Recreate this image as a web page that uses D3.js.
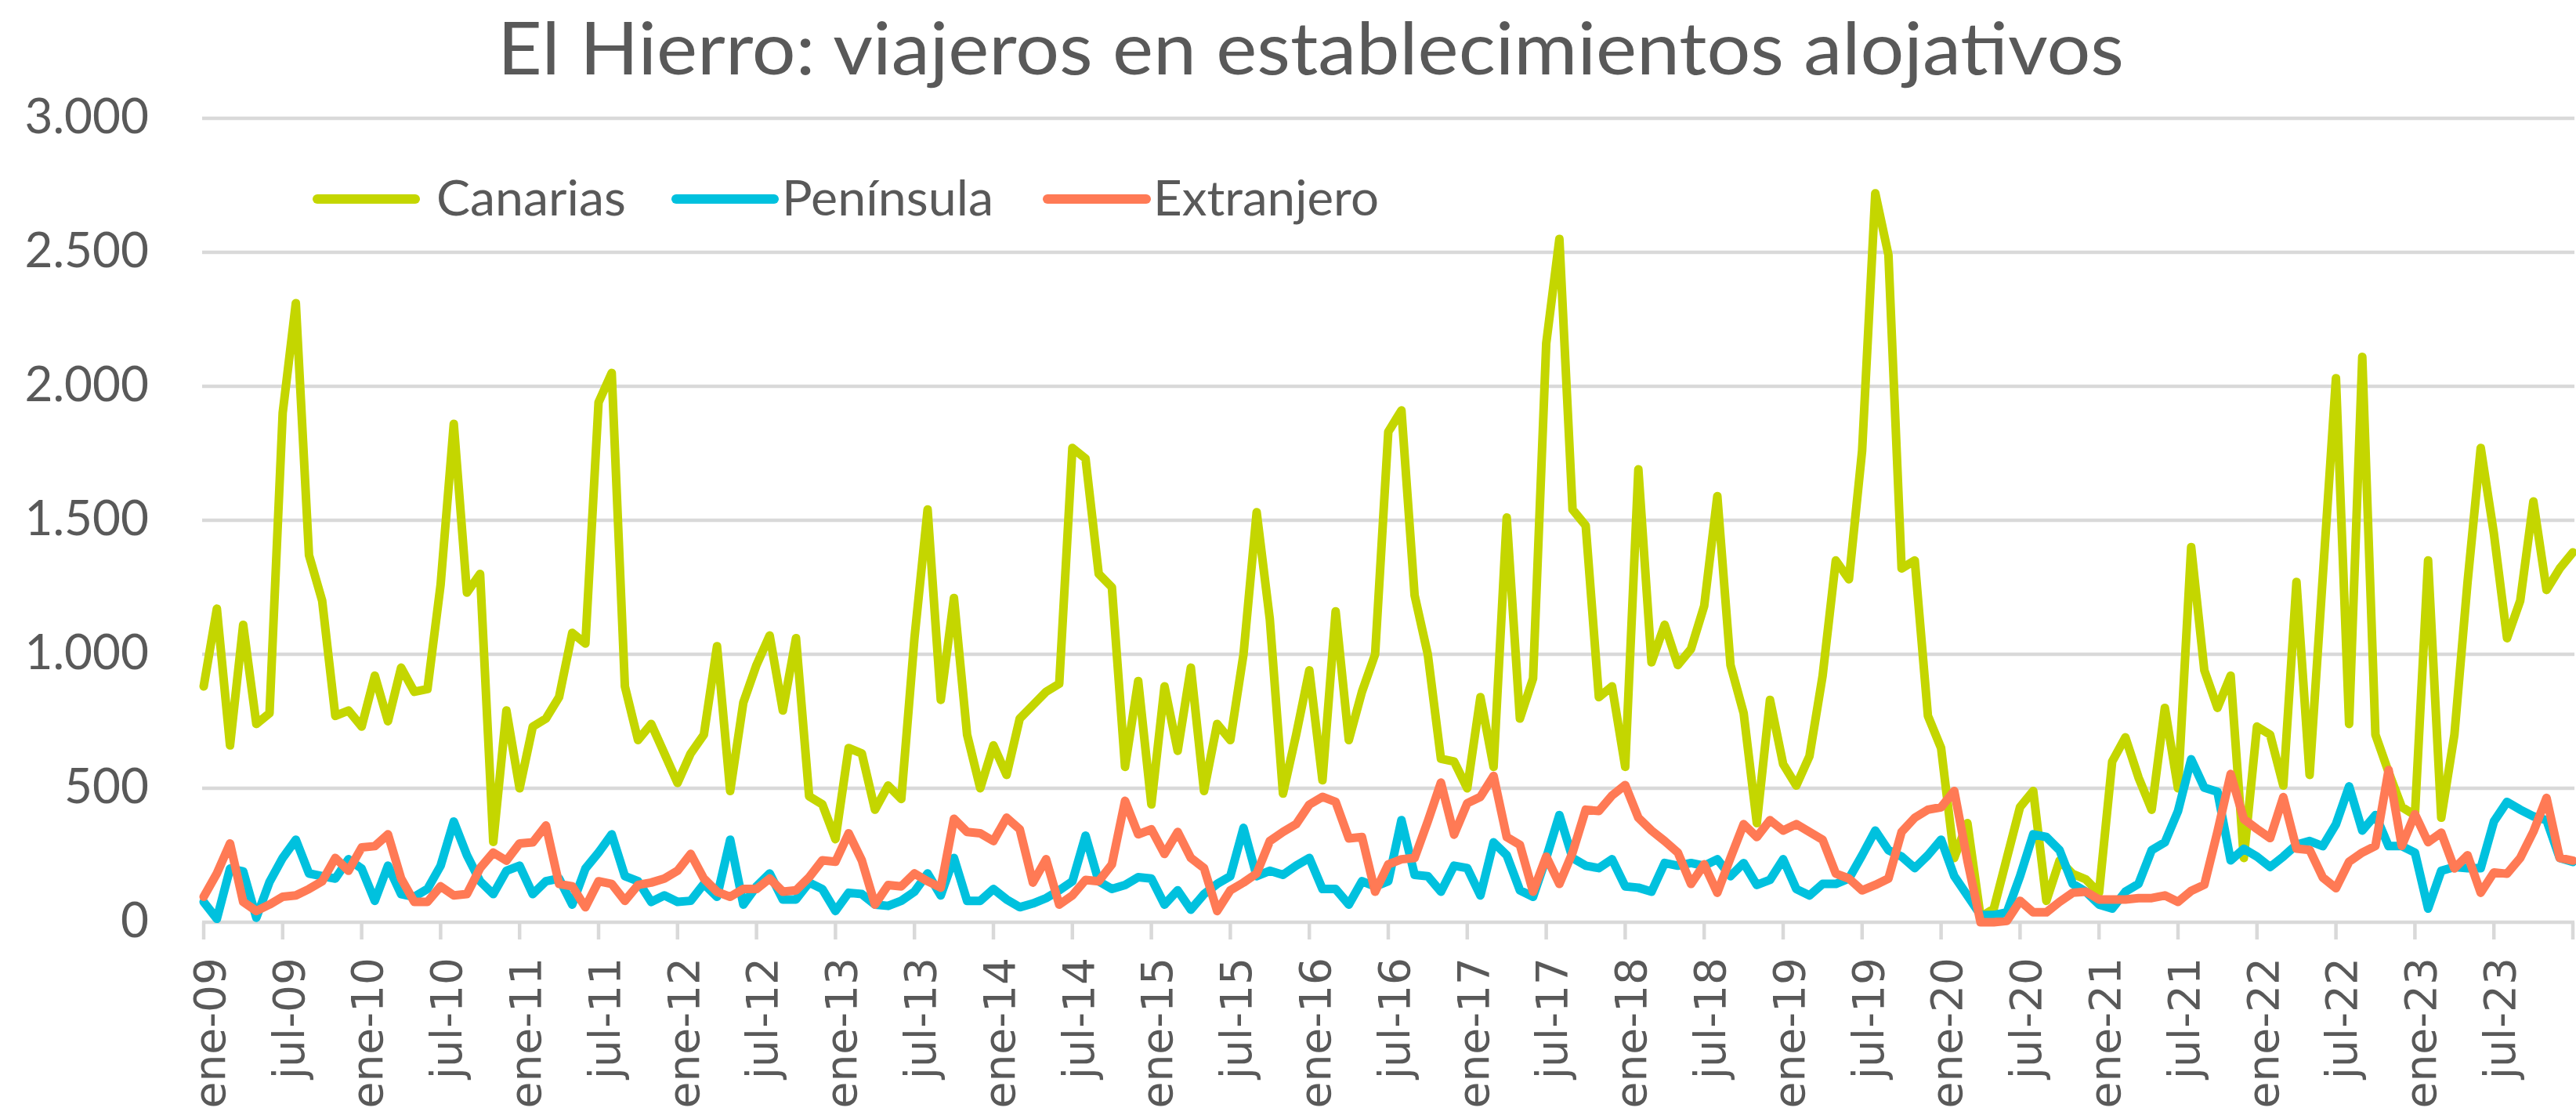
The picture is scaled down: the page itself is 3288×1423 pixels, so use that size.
<!DOCTYPE html>
<head>
  <meta charset="utf-8">
  <script src="https://d3js.org/d3.v7.min.js"></script>
  <style>
    body {
      margin: 0;
      background: #fff;
    }
    #chart text {
      fill: #595959;
    }
  </style>
</head>

<body>
  <svg id="chart" width="3288" height="1423"></svg>

  <script>

    // viajeros alojados en El Hierro, mensual ene-09 .. ene-24
    const meses = ["ene", "feb", "mar", "abr", "may", "jun", "jul", "ago", "sep", "oct", "nov", "dic"];

    const etiquetasX = ["ene-09", "jul-09", "ene-10", "jul-10", "ene-11", "jul-11", "ene-12", "jul-12",
      "ene-13", "jul-13", "ene-14", "jul-14", "ene-15", "jul-15", "ene-16", "jul-16", "ene-17", "jul-17",
      "ene-18", "jul-18", "ene-19", "jul-19", "ene-20", "jul-20", "ene-21", "jul-21", "ene-22", "jul-22",
      "ene-23", "jul-23"];

    const ticksY = [0, 500, 1000, 1500, 2000, 2500, 3000];

    const canarias = [
      880, 1170, 660, 1110, 740, 780, 1900, 2310, 1370, 1200, 770, 790,
      730, 920, 750, 950, 860, 870, 1260, 1860, 1230, 1300, 300, 790,
      500, 730, 760, 840, 1080, 1040, 1940, 2050, 880, 680, 740, 630,
      520, 630, 700, 1030, 490, 820, 960, 1070, 790, 1060, 470, 440,
      310, 650, 630, 420, 510, 460, 1060, 1540, 830, 1210, 700, 500,
      660, 550, 760, 810, 860, 890, 1770, 1730, 1300, 1250, 580, 900,
      440, 880, 640, 950, 490, 740, 680, 1000, 1530, 1130, 480, 700,
      940, 530, 1160, 680, 860, 1000, 1830, 1910, 1220, 1000, 610, 600,
      500, 840, 580, 1510, 760, 910, 2160, 2550, 1540, 1480, 840, 880,
      580, 1690, 970, 1110, 960, 1020, 1180, 1590, 960, 780, 370, 830,
      590, 510, 620, 920, 1350, 1280, 1760, 2720, 2490, 1320, 1350, 770,
      650, 240, 370, 20, 50, 240, 430, 490, 80, 230, 180, 160,
      110, 600, 690, 540, 420, 800, 500, 1400, 940, 800, 920, 240,
      730, 700, 510, 1270, 550, 1290, 2030, 740, 2110, 700, 560, 430,
      400, 1350, 390, 700, 1270, 1770, 1450, 1060, 1200, 1570, 1240, 1320,
      1380];

    const peninsula = [
      76, 13, 200, 190, 17, 150, 240, 308, 182, 172, 163, 235,
      200, 80, 211, 105, 95, 124, 211, 376, 250, 153, 105, 192,
      211, 105, 153, 163, 66, 200, 260, 328, 172, 153, 76, 100,
      76, 80, 143, 95, 308, 66, 134, 182, 85, 85, 148, 124,
      42, 110, 105, 66, 61, 80, 114, 182, 100, 240, 80, 80,
      124, 85, 56, 70, 90, 119, 153, 323, 153, 124, 139, 168,
      163, 66, 119, 47, 105, 143, 172, 352, 172, 192, 177, 211,
      240, 124, 124, 66, 153, 133, 153, 381, 177, 172, 114, 211,
      202, 100, 298, 250, 119, 95, 240, 400, 240, 211, 202, 235,
      134, 129, 114, 221, 211, 221, 211, 235, 172, 221, 139, 158,
      235, 124, 100, 143, 143, 163, 250, 342, 269, 245, 202, 250,
      308, 172, 100, 27, 27, 37, 172, 328, 318, 269, 143, 114,
      66, 51, 114, 143, 269, 298, 415, 608, 502, 487, 231, 274,
      245, 206, 245, 289, 303, 284, 366, 507, 342, 400, 284, 284,
      260, 51, 192, 206, 202, 202, 376, 449, 420, 395, 381, 240,
      225];

    const extranjero = [
      95, 182, 294, 76, 42, 66, 95, 100, 124, 153, 240, 192,
      279, 284, 328, 163, 76, 76, 134, 100, 105, 202, 260, 230,
      294, 298, 361, 143, 134, 56, 153, 143, 80, 139, 148, 163,
      192, 255, 163, 114, 95, 124, 124, 163, 114, 119, 168, 231,
      226, 332, 231, 66, 139, 134, 182, 153, 129, 386, 337, 332,
      303, 390, 347, 148, 235, 66, 100, 158, 153, 216, 453, 328,
      347, 255, 337, 240, 202, 42, 119, 148, 182, 303, 337, 366,
      439, 468, 449, 313, 318, 114, 216, 235, 240, 376, 521, 327,
      444, 468, 546, 318, 289, 114, 245, 143, 260, 420, 415, 473,
      512, 390, 342, 303, 260, 143, 216, 110, 240, 366, 318, 381,
      342, 366, 337, 308, 182, 163, 119, 139, 163, 337, 390, 420,
      429, 490, 230, 0, 0, 5, 80, 37, 37, 76, 110, 114,
      85, 85, 85, 90, 90, 100, 76, 117, 140, 338, 553, 385,
      348, 314, 467, 275, 270, 167, 127, 226, 260, 285, 568, 285,
      403, 299, 334, 201, 250, 110, 186, 181, 240, 338, 464, 240,
      230];

    // una categoria por mes
    const categorias = canarias.map((d, i) => meses[i % 12] + "-" + String(9 + Math.floor(i / 12)).padStart(2, "0"));

    const series = [
      { nombre: "Canarias", valores: canarias, color: "#c4d600", leyenda: [405, 530, 557, 242] },
      { nombre: "Península", valores: peninsula, color: "#00c1de", leyenda: [863, 988, 998, 270] },
      { nombre: "Extranjero", valores: extranjero, color: "#ff7a55", leyenda: [1337, 1463, 1472, 288] }
    ];

    const gris = "#d9d9d9";
    const svg = d3.select("#chart");

    const x = d3.scalePoint()
      .domain(categorias)
      .range([260, 3284]);

    const y = d3.scaleLinear()
      .domain([0, 3000])
      .range([1177, 151]);

    const fmt = d3.formatLocale({ decimal: ",", thousands: ".", grouping: [3], currency: ["", "€"] }).format(",");

    // titulo
    svg.append("text")
      .attr("x", 635)
      .attr("y", 95)
      .attr("textLength", 2076)
      .attr("lengthAdjust", "spacingAndGlyphs")
      .style("font-family", "Lato, 'Open Sans', sans-serif")
      .style("font-size", "93px")
      .text("El Hierro: viajeros en establecimientos alojativos");

    // rejilla horizontal
    svg.append("g")
      .selectAll("line")
      .data(ticksY)
      .enter().append("line")
      .attr("x1", 258)
      .attr("x2", 3286)
      .attr("y1", d => y(d))
      .attr("y2", d => y(d))
      .style("stroke", gris)
      .style("stroke-width", 4.5);

    // etiquetas eje y
    svg.append("g")
      .selectAll("text")
      .data(ticksY)
      .enter().append("text")
      .attr("x", 190)
      .attr("y", d => y(d) + 19)
      .attr("text-anchor", "end")
      .style("font-family", "Lato, 'Open Sans', sans-serif")
      .style("font-size", "62px")
      .text(d => fmt(d));

    // marcas del eje x cada 6 meses
    const marcas = categorias.filter((d, i) => i % 6 === 0);
    svg.append("g")
      .selectAll("line")
      .data(marcas)
      .enter().append("line")
      .attr("x1", d => x(d))
      .attr("x2", d => x(d))
      .attr("y1", 1177)
      .attr("y2", 1199)
      .style("stroke", gris)
      .style("stroke-width", 4.5);

    svg.append("g")
      .selectAll("text")
      .data(etiquetasX)
      .enter().append("text")
      .attr("transform", d => `translate(${x(d) + 7},1222) rotate(-90)`)
      .attr("dy", "0.36em")
      .attr("text-anchor", "end")
      .style("font-family", "'DejaVu Sans', sans-serif")
      .style("font-size", "55px")
      .text(d => d);

    // lineas
    const linea = d3.line()
      .x((d, i) => x(categorias[i]))
      .y(d => y(d));

    svg.append("g")
      .selectAll("path")
      .data(series)
      .enter().append("path")
      .attr("d", d => linea(d.valores))
      .style("fill", "none")
      .style("stroke", d => d.color)
      .style("stroke-width", 11)
      .style("stroke-linejoin", "round")
      .style("stroke-linecap", "round");

    // leyenda
    const ley = svg.append("g");
    ley.selectAll("line")
      .data(series)
      .enter().append("line")
      .attr("x1", d => d.leyenda[0])
      .attr("x2", d => d.leyenda[1])
      .attr("y1", 254)
      .attr("y2", 254)
      .style("stroke", d => d.color)
      .style("stroke-width", 12)
      .style("stroke-linecap", "round");

    ley.selectAll("text")
      .data(series)
      .enter().append("text")
      .attr("x", d => d.leyenda[2])
      .attr("y", 275)
      .attr("textLength", d => d.leyenda[3])
      .attr("lengthAdjust", "spacingAndGlyphs")
      .style("font-family", "Lato, 'Open Sans', sans-serif")
      .style("font-size", "62px")
      .text(d => d.nombre);

  </script>
</body>
